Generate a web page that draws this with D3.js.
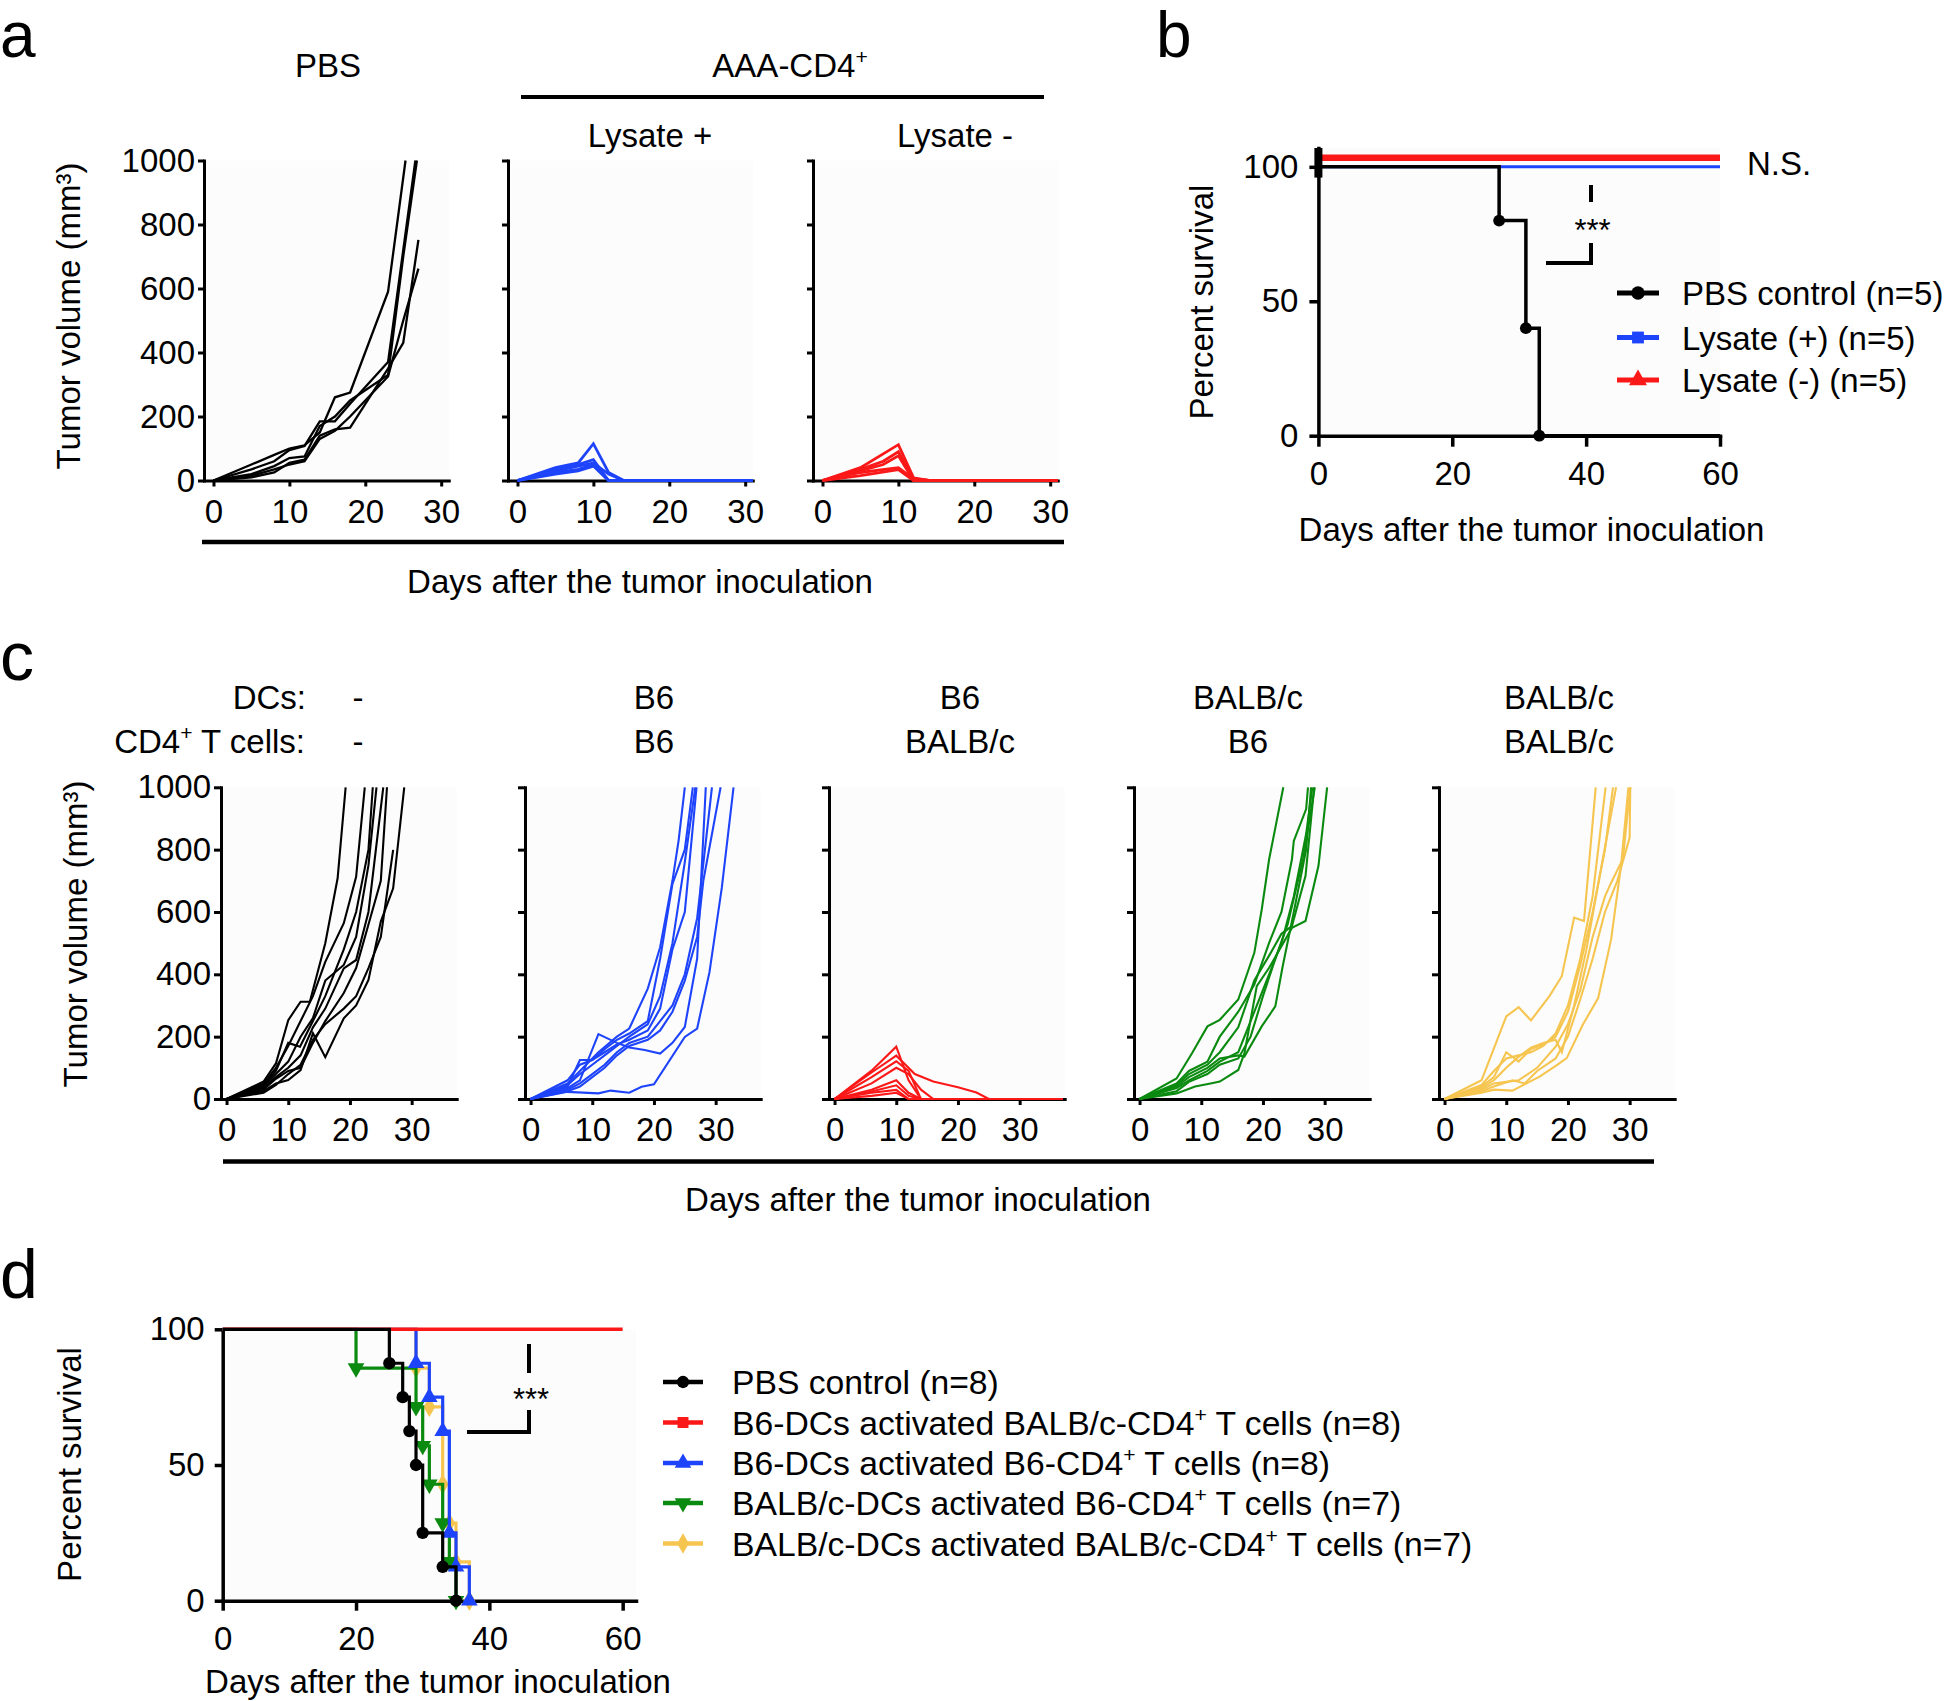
<!DOCTYPE html>
<html><head><meta charset="utf-8">
<script src="https://cdn.jsdelivr.net/npm/d3@7"></script>
<style>
body{margin:0;background:#fff}
svg{display:block}
text{font-family:"Liberation Sans",Arial,Helvetica,sans-serif;fill:#000}
</style>
</head><body>
<svg id="fig" width="1946" height="1701"></svg>
<script>
// ---------------- DATA ----------------
const GROWTH_Y_TICKS = [0, 200, 400, 600, 800, 1000];
const GROWTH_X_TICKS = [0, 10, 20, 30];
const SURV_Y_TICKS = [0, 50, 100];
const SURV_X_TICKS = [0, 20, 40, 60];

// panel a : tumour volume per mouse, [day, mm3]
const aPBS = [
  [[0,0],[5,50],[8,80],[10,100],[12,110],[14,150],[16,260],[18,275],[23,590],[25.3,1000]],
  [[0,0],[5,35],[8,60],[10,95],[12,108],[14,185],[16,185],[18,240],[23,370],[26.6,1000]],
  [[0,0],[5,20],[8,45],[10,70],[12,75],[14,170],[16,200],[18,250],[23,330],[25,700],[26.8,1000]],
  [[0,0],[5,10],[8,25],[10,55],[12,65],[14,140],[16,160],[18,165],[23,350],[25,430],[27,752]],
  [[0,0],[5,15],[8,35],[10,50],[12,60],[14,130],[16,155],[18,200],[23,325],[25,500],[27,662]]
];
const aLysatePlus = [
  [[0,0],[5,40],[8,55],[10,115],[12,25],[14,0],[31,0]],
  [[0,0],[5,35],[8,50],[10,65],[12,0],[31,0]],
  [[0,0],[5,30],[8,45],[10,55],[12,20],[14,0],[31,0]],
  [[0,0],[5,25],[8,35],[10,50],[12,0],[31,0]],
  [[0,0],[5,20],[8,30],[10,45],[12,0],[31,0]]
];
const aLysateMinus = [
  [[0,0],[5,40],[10,112],[12,8],[14,0],[31,0]],
  [[0,0],[5,35],[8,60],[10,90],[12,5],[14,0],[31,0]],
  [[0,0],[5,30],[8,50],[10,77],[12,0],[31,0]],
  [[0,0],[5,25],[10,40],[12,5],[14,0],[31,0]],
  [[0,0],[5,15],[10,34],[12,0],[31,0]]
];

// panel c
const cNone = [
  [[0,0],[6,56],[8,114],[10,253],[12,312],[13.5,312],[16,500],[18,708],[19.3,1000]],
  [[0,0],[6,50],[8,100],[10,170],[12,250],[14,330],[16,440],[19,564],[21,713],[22.4,1000]],
  [[0,0],[6,45],[8,90],[10,180],[11.9,168],[14,250],[16,330],[19,480],[21,600],[23,800],[23.7,1000]],
  [[0,0],[6,40],[8,80],[10,120],[12,200],[14,260],[16,380],[19,430],[21,520],[23,750],[24.3,1000]],
  [[0,0],[6,35],[8,70],[10,100],[12,140],[14,230],[16,290],[19,419],[21,446],[23,600],[25.4,1000]],
  [[0,0],[6,30],[8,65],[10,90],[12,100],[14,180],[16,250],[19,340],[21,420],[23,560],[25,700],[26,1000]],
  [[0,0],[6,25],[8,50],[10,61],[12,93],[14,211],[16,134],[19,259],[21,300],[23,382],[25,569],[27,676],[28.8,1000]],
  [[0,0],[6,20],[8,45],[10,80],[12,110],[14,190],[16,240],[19,290],[21,330],[23,420],[25,520],[27,799]]
];
const cB6B6 = [
  [[0,0],[6,50],[8,90],[11,150],[14,200],[16,226],[19,354],[21,487],[23,700],[24,830],[25,1000]],
  [[0,0],[6,60],[8,110],[10,125],[12,160],[14,190],[16,210],[19,250],[21,450],[23,690],[25,800],[26.3,1000]],
  [[0,0],[6,45],[8,80],[10,110],[12,140],[14,170],[16,200],[19,240],[21,330],[23,500],[25,760],[26.7,1000]],
  [[0,0],[6,40],[8,125],[10,125],[12,150],[14,175],[16,190],[19,220],[21,290],[23,480],[25,600],[26.9,1000]],
  [[0,0],[6,35],[8,60],[11,208],[14,180],[16,165],[18.5,157],[21,146],[23,180],[25,231],[27,450],[28.4,1000]],
  [[0,0],[6,30],[8,50],[10,80],[12,110],[14,150],[16,180],[19,200],[21,250],[23,300],[25,400],[27,580],[29.4,1000]],
  [[0,0],[6,25],[8,40],[10,70],[12,100],[14,140],[16,170],[19,190],[21,220],[23,280],[25,380],[27,520],[28,700],[30.8,1000]],
  [[0,0],[6,23],[11,18],[13,27],[16,20],[18,39],[20,47],[25,199],[27,226],[29,407],[31,678],[32.9,1000]]
];
const cB6BALB = [
  [[0,0],[6,91],[10,168],[12,60],[14,0],[37,0]],
  [[0,0],[6,85],[10,139],[13,80],[16,56],[20,38],[23,21],[25,0],[37,0]],
  [[0,0],[6,70],[10,121],[12,90],[14,0],[37,0]],
  [[0,0],[6,50],[10,100],[12,80],[14,30],[16,0],[37,0]],
  [[0,0],[6,30],[10,60],[12,20],[14,0],[37,0]],
  [[0,0],[6,24],[10,44],[12,10],[14,0],[37,0]],
  [[0,0],[6,20],[10,29],[12,0],[37,0]],
  [[0,0],[6,10],[10,20],[12,0],[37,0]]
];
const cBALBB6 = [
  [[0,0],[6,66],[8.5,147],[11,233],[13,254],[16,319],[18.6,469],[19.8,608],[21,769],[23.3,1000]],
  [[0,0],[6,50],[8,90],[11,120],[13,200],[16,280],[18.6,367],[21,501],[23,600],[24.7,769],[25,828],[27,930],[27.3,1000]],
  [[0,0],[6,45],[8,80],[11,110],[13,150],[16,230],[18.6,380],[21,460],[23,530],[24.7,555],[26.9,716],[28.3,1000]],
  [[0,0],[6,18],[9,40],[11.5,50],[13,56],[16,93],[17,147],[19,362],[21,421],[24.7,549],[26.9,571],[29,748],[30.4,1000]],
  [[0,0],[6,40],[8,70],[11,100],[13,130],[16,140],[17,136],[19.8,233],[22,297],[23.2,426],[25,600],[27,800],[27.8,1000]],
  [[0,0],[6,35],[8,60],[11,90],[13,120],[16,150],[18,250],[21,400],[23,500],[25,650],[27,850],[28,1000]],
  [[0,0],[6,25],[8,55],[11,80],[13,110],[16,130],[18,200],[20,330],[22,450],[24,560],[26.5,770],[28.4,1000]]
];
const cBALBBALB = [
  [[0,0],[6,60],[10,265],[12,295],[14,252],[17,330],[19,394],[21,582],[22.6,571],[24.5,1000]],
  [[0,0],[6,45],[8,90],[10,130],[12,140],[14,150],[16,170],[18,210],[20,300],[22,450],[24,650],[26.1,1000]],
  [[0,0],[6,40],[8,70],[10,150],[12,120],[14,160],[16,175],[18,200],[20,280],[22,430],[24,600],[26,800],[27.3,1000]],
  [[0,0],[6,35],[8,60],[10,100],[12,135],[14,165],[16,180],[18,190],[19,150],[21,300],[23,480],[25,700],[27.8,1000]],
  [[0,0],[6,30],[8,50],[10,55],[12,60],[15,100],[18,168],[20,240],[22,350],[24,520],[26,650],[27,694],[28.9,770],[30.1,1000]],
  [[0,0],[6,20],[8,30],[11,27],[15.4,72],[18.2,109],[19.8,131],[22.4,238],[24.9,324],[27,512],[28.6,748],[29.8,1000]],
  [[0,0],[6,25],[8,40],[11,60],[13,50],[15,90],[18,130],[20,200],[22,320],[24,450],[26,600],[28,700],[30,839],[30.1,1000]]
];

// panel b : Kaplan-Meier, [day, % survival]
const bPBS = [[0,100],[27,80],[31,40],[33,0],[60,0]];
const bLysatePlus = [[0,100],[60,100]];
const bLysateMinus = [[0,100],[60,100]];
const bLegend = ["PBS control (n=5)", "Lysate (+) (n=5)", "Lysate (-) (n=5)"];

// panel d
const dPBS = [[0,100],[25,87.5],[27,75],[28,62.5],[29,50],[30,25],[33,12.5],[35,0]];
const dB6BALB = [[0,100],[60,100]];
const dB6B6 = [[0,100],[29,87.5],[31,75],[33,62.5],[34,25],[35,12.5],[37,0]];
const dBALBB6 = [[0,100],[20,85.7],[29,71.4],[30,57.1],[31,42.9],[33,28.6],[34,14.3],[35,0]];
const dBALBBALB = [[0,100],[29,85.7],[31,71.4],[33,42.9],[34,28.6],[35,14.3],[37,0]];
const dLegend = [
  ["PBS control (n=8)", ""],
  ["B6-DCs activated BALB/c-CD4", " T cells (n=8)"],
  ["B6-DCs activated B6-CD4", " T cells (n=8)"],
  ["BALB/c-DCs activated B6-CD4", " T cells (n=7)"],
  ["BALB/c-DCs activated BALB/c-CD4", " T cells (n=7)"]
];
const cHeaderDCs = ["-", "B6", "B6", "BALB/c", "BALB/c"];
const cHeaderT = ["-", "B6", "BALB/c", "B6", "BALB/c"];

// ---------------- STYLE ----------------
const COL = {black:"#000000", blue:"#1e44fb", red:"#fb1818", green:"#0b8a10", yellow:"#f6c550"};
const FS = 33;
const BG = "#fcfcfc";

const svg = d3.select("#fig");

function txt(g, x, y, s, o = {}) {
  const t = g.append("text").attr("x", x).attr("y", y)
    .attr("font-size", o.fs || FS).attr("text-anchor", o.anchor || "middle").text(s);
  if (o.rotate) t.attr("transform", `rotate(-90,${x},${y})`);
  return t;
}
function supText(g, x, y, pre, sup, post, o = {}) {
  const t = g.append("text").attr("x", x).attr("y", y)
    .attr("font-size", o.fs || FS).attr("text-anchor", o.anchor || "middle");
  t.append("tspan").text(pre);
  t.append("tspan").attr("font-size", 21).attr("dy", -13).text(sup);
  if (post) t.append("tspan").attr("dy", 13).text(post);
  return t;
}

function styleAxis(ax, lw) {
  ax.select(".domain").attr("stroke", "#000").attr("stroke-width", lw).attr("stroke-linecap", "square");
  ax.selectAll(".tick line").attr("stroke", "#000").attr("stroke-width", lw);
  ax.selectAll("text").attr("font-size", FS).attr("font-family", '"Liberation Sans",Arial,sans-serif').attr("fill", "#000");
}

function growthPlot(o) {
  const g = svg.append("g");
  const x = d3.scaleLinear().domain(o.xDomain).range([o.axisX, o.axisX + (o.xDomain[1] - o.xDomain[0]) * o.pxPerDay]);
  const y = d3.scaleLinear().domain([0, 1000]).range([o.yBottom, o.yTop]);
  g.append("rect").attr("x", x.range()[0]).attr("y", y(1000)).attr("width", x.range()[1] - x.range()[0])
    .attr("height", y(0) - y(1000)).attr("fill", BG);
  const yAx = g.append("g").attr("transform", `translate(${o.axisX},0)`)
    .call(d3.axisLeft(y).tickValues(GROWTH_Y_TICKS).tickFormat(d3.format("d")).tickSize(o.yTick).tickSizeOuter(0).tickPadding(o.yPad));
  styleAxis(yAx, 3);
  if (!o.yLabels) yAx.selectAll("text").remove();
  const xAx = g.append("g").attr("transform", `translate(0,${o.yBottom})`)
    .call(d3.axisBottom(x).tickValues(GROWTH_X_TICKS).tickSize(o.xTick).tickSizeOuter(0));
  styleAxis(xAx, 3);
  xAx.selectAll("text").attr("y", o.xLabelBase).attr("dy", 0);
  const line = d3.line().x(d => x(d[0])).y(d => y(d[1]));
  g.selectAll(".ser").data(o.series).join("path")
    .attr("d", line).attr("fill", "none").attr("stroke", o.color)
    .attr("stroke-width", o.lw).attr("stroke-linejoin", "miter");
  return {x, y};
}

function kmPlot(o) {
  const g = svg.append("g");
  const x = d3.scaleLinear().domain(o.xDomain).range(o.xRange);
  const y = d3.scaleLinear().domain(o.yDomain).range(o.yRange);
  g.append("rect").attr("x", o.xRange[0]).attr("y", o.yRange[1]).attr("width", o.xRange[1] - o.xRange[0])
    .attr("height", o.yRange[0] - o.yRange[1]).attr("fill", BG);
  const line = d3.line().x(d => x(d[0])).y(d => y(d[1])).curve(d3.curveStepAfter);
  const yAx = g.append("g").attr("transform", `translate(${o.xRange[0]},0)`)
    .call(d3.axisLeft(y).tickValues(SURV_Y_TICKS).tickSize(o.yTick).tickSizeOuter(0).tickPadding(o.yPad));
  styleAxis(yAx, 3.5);
  const xAx = g.append("g").attr("transform", `translate(0,${o.yRange[0]})`)
    .call(d3.axisBottom(x).tickValues(SURV_X_TICKS).tickSize(o.xTick).tickSizeOuter(0));
  styleAxis(xAx, 3.5);
  xAx.selectAll("text").attr("y", o.xLabelBase).attr("dy", 0);
  o.series.forEach(s => {
    const sg = g.append("g").attr("transform", `translate(0,${s.shift || 0})`);
    sg.append("path").attr("d", line(s.data)).attr("fill", "none").attr("stroke", s.color)
      .attr("stroke-width", s.lw).attr("stroke-linejoin", "miter");
    if (s.marker) {
      const drops = s.data.filter((d, i) => i > 0 && d[1] < s.data[i - 1][1]);
      sg.selectAll(".m").data(drops).join("path")
        .attr("transform", d => `translate(${x(d[0])},${y(d[1])}) rotate(${s.rot || 0})`)
        .attr("d", d3.symbol().type(s.marker).size(s.msize || 110)).attr("fill", s.color);
    }
  });
  return {g, x, y};
}

// ---------------- PANEL A ----------------
const aCommon = {xDomain:[-1.25, 31], pxPerDay:7.59, yTop:160.5, yBottom:480.5, yTick:6, yPad:3, xTick:6, xLabelBase:42, lw:2.3};
growthPlot({...aCommon, axisX:204, series:aPBS, color:COL.black, yLabels:true});
growthPlot({...aCommon, axisX:508, series:aLysatePlus, color:COL.blue, yLabels:false, lw:2.8});
growthPlot({...aCommon, axisX:813, series:aLysateMinus, color:COL.red, yLabels:false, lw:2.8});

const ga = svg.append("g");
txt(ga, 0, 57, "a", {fs:64, anchor:"start"});
txt(ga, 328, 77, "PBS");
supText(ga, 790, 77, "AAA-CD4", "+", null);
ga.append("line").attr("x1", 521).attr("x2", 1044).attr("y1", 97).attr("y2", 97).attr("stroke", "#000").attr("stroke-width", 4);
txt(ga, 650, 147, "Lysate +");
txt(ga, 955, 147, "Lysate -");
ga.append("line").attr("x1", 202).attr("x2", 1064).attr("y1", 542).attr("y2", 542).attr("stroke", "#000").attr("stroke-width", 4.5);
txt(ga, 640, 593, "Days after the tumor inoculation");
txt(ga, 80, 316, "Tumor volume (mm³)", {rotate:true});

// ---------------- PANEL B ----------------
const kb = kmPlot({
  xDomain:[0, 60], xRange:[1318.4, 1720], yDomain:[0, 107], yRange:[435.7, 148],
  yTick:9, yPad:11, xTick:11, xLabelBase:49,
  series:[
    {data:bLysatePlus, color:COL.blue, lw:3},
    {data:bLysateMinus, color:COL.red, lw:6.5, shift:-9},
    {data:bPBS, color:COL.black, lw:3.5, marker:d3.symbolCircle, msize:110}
  ]
});
const gb = svg.append("g");
gb.append("rect").attr("x", kb.x(0) - 4).attr("y", kb.y(107)).attr("width", 8).attr("height", kb.y(96) - kb.y(107)).attr("fill", "#000");
txt(gb, 1156, 57, "b", {fs:64, anchor:"start"});
txt(gb, 1213, 302, "Percent survival", {rotate:true});
txt(gb, 1531.5, 541, "Days after the tumor inoculation");
txt(gb, 1747, 175, "N.S.", {anchor:"start"});
// significance bracket
gb.append("line").attr("x1", 1591).attr("x2", 1591).attr("y1", 185).attr("y2", 202).attr("stroke", "#000").attr("stroke-width", 4);
txt(gb, 1592.5, 241, "***", {fs:31});
gb.append("path").attr("d", "M1591,243V263H1546").attr("fill", "none").attr("stroke", "#000").attr("stroke-width", 4);
// legend
const bLegCol = [COL.black, COL.blue, COL.red];
const bLegSym = [d3.symbolCircle, d3.symbolSquare, d3.symbolTriangle];
const bLegY = [293, 337.5, 380];
bLegend.forEach((s, i) => {
  gb.append("line").attr("x1", 1617).attr("x2", 1659).attr("y1", bLegY[i]).attr("y2", bLegY[i]).attr("stroke", bLegCol[i]).attr("stroke-width", 5);
  gb.append("path").attr("transform", `translate(1638,${bLegY[i]})`).attr("d", d3.symbol().type(bLegSym[i]).size(140)).attr("fill", bLegCol[i]);
  txt(gb, 1682, bLegY[i] + 12, s, {anchor:"start"});
});

// ---------------- PANEL C ----------------
const cCommon = {xDomain:[-0.9, 37.3], pxPerDay:6.17, yTop:787.3, yBottom:1099, yTick:7, yPad:3, xTick:6, xLabelBase:42, lw:2.1};
const cAxes = [221, 525, 829, 1134, 1439];
const cSeries = [cNone, cB6B6, cB6BALB, cBALBB6, cBALBBALB];
const cColors = [COL.black, COL.blue, COL.red, COL.green, COL.yellow];
cAxes.forEach((ax, i) => growthPlot({...cCommon, axisX:ax, series:cSeries[i], color:cColors[i], yLabels:i === 0}));

const gc = svg.append("g");
txt(gc, 0, 680, "c", {fs:68, anchor:"start"});
txt(gc, 306, 709, "DCs:", {anchor:"end"});
supText(gc, 305, 752.5, "CD4", "+", " T cells:", {anchor:"end"});
const cHeadX = [358, 654, 960, 1248, 1559];
cHeadX.forEach((hx, i) => {
  txt(gc, hx, 709, cHeaderDCs[i]);
  txt(gc, hx, 752.5, cHeaderT[i]);
});
gc.append("line").attr("x1", 223).attr("x2", 1654).attr("y1", 1161.6).attr("y2", 1161.6).attr("stroke", "#000").attr("stroke-width", 4.5);
txt(gc, 918, 1211, "Days after the tumor inoculation");
txt(gc, 87, 934, "Tumor volume (mm³)", {rotate:true});

// ---------------- PANEL D ----------------
const kd = kmPlot({
  xDomain:[0, 62], xRange:[222.7, 636], yDomain:[0, 100], yRange:[1600.7, 1329.3],
  yTick:8, yPad:10, xTick:10, xLabelBase:49,
  series:[
    {data:dBALBBALB, color:COL.yellow, lw:3.2, marker:d3.symbolDiamond, msize:120},
    {data:dBALBB6, color:COL.green, lw:3.2, marker:d3.symbolTriangle, rot:180, msize:120},
    {data:dB6B6, color:COL.blue, lw:3.2, marker:d3.symbolTriangle, msize:120},
    {data:dB6BALB, color:COL.red, lw:3.5, marker:d3.symbolSquare},
    {data:dPBS, color:COL.black, lw:3.2, marker:d3.symbolCircle, msize:120}
  ]
});
const gd = svg.append("g");
txt(gd, 0, 1298, "d", {fs:68, anchor:"start"});
txt(gd, 81, 1464.5, "Percent survival", {rotate:true});
txt(gd, 438, 1693, "Days after the tumor inoculation");
gd.append("line").attr("x1", 529).attr("x2", 529).attr("y1", 1344).attr("y2", 1373).attr("stroke", "#000").attr("stroke-width", 4);
txt(gd, 531, 1410, "***", {fs:31});
gd.append("path").attr("d", "M529,1410V1432H467").attr("fill", "none").attr("stroke", "#000").attr("stroke-width", 4);
const dLegCol = [COL.black, COL.red, COL.blue, COL.green, COL.yellow];
const dLegSym = [d3.symbolCircle, d3.symbolSquare, d3.symbolTriangle, d3.symbolTriangle, d3.symbolDiamond];
const dLegRot = [0, 0, 0, 180, 0];
const dLegY = [1382, 1422.5, 1463, 1503, 1543.5];
dLegend.forEach((s, i) => {
  gd.append("line").attr("x1", 663).attr("x2", 703).attr("y1", dLegY[i]).attr("y2", dLegY[i]).attr("stroke", dLegCol[i]).attr("stroke-width", 4.5);
  gd.append("path").attr("transform", `translate(683,${dLegY[i]}) rotate(${dLegRot[i]})`).attr("d", d3.symbol().type(dLegSym[i]).size(120)).attr("fill", dLegCol[i]);
  if (s[1]) supText(gd, 732, dLegY[i] + 12, s[0], "+", s[1], {anchor:"start", fs:33.7});
  else txt(gd, 732, dLegY[i] + 12, s[0], {anchor:"start", fs:33.7});
});
</script>
</body></html>
